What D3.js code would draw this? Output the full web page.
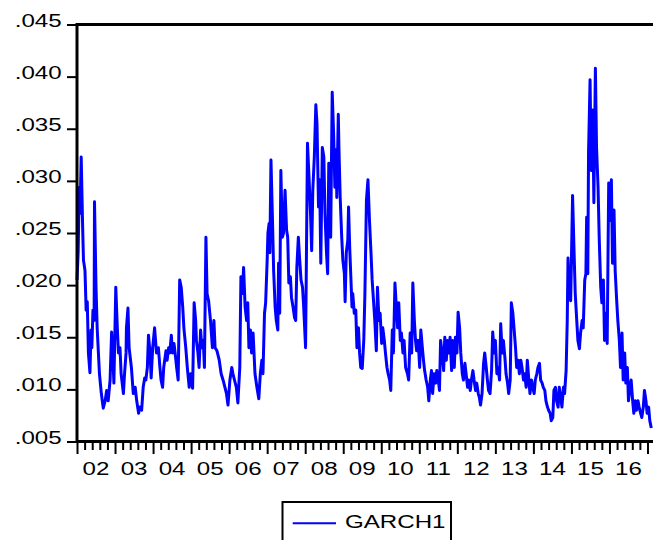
<!DOCTYPE html>
<html>
<head>
<meta charset="utf-8">
<script src="https://cdn.jsdelivr.net/npm/d3@7"></script>
<style>
  body { margin: 0; background: #fff; }
  text { font-family: Arial, "Liberation Sans", sans-serif; font-size: 19px; fill: #000; }
</style>
</head>
<body>
<svg id="chart" width="653" height="540"></svg>
<script>
// dates as decimal years
var dates = [
  2002.00,2002.03,2002.06,2002.08,2002.11,2002.15,2002.17,2002.21,2002.24,2002.27,
  2002.30,2002.34,2002.37,2002.39,2002.42,2002.45,2002.46,2002.50,2002.53,2002.59,
  2002.64,2002.69,2002.74,2002.78,2002.82,2002.87,2002.91,2002.94,2002.97,2003.02,
  2003.06,2003.09,2003.13,2003.16,2003.22,2003.25,2003.29,2003.30,2003.34,2003.37,
  2003.43,2003.48,2003.53,2003.57,2003.62,2003.65,2003.70,2003.74,2003.78,2003.81,
  2003.85,2003.88,2003.92,2003.95,2003.99,2004.04,2004.09,2004.14,2004.18,2004.21,
  2004.25,2004.28,2004.34,2004.37,2004.41,2004.44,2004.48,2004.51,2004.55,2004.58,
  2004.62,2004.66,2004.70,2004.74,2004.78,2004.81,2004.86,2004.90,2004.95,2004.99,
  2005.04,2005.08,2005.12,2005.14,2005.18,2005.21,2005.25,2005.28,2005.32,2005.35,
  2005.39,2005.42,2005.46,2005.51,2005.56,2005.60,2005.63,2005.68,2005.74,2005.79,
  2005.84,2005.89,2005.93,2005.97,2006.02,2006.07,2006.10,2006.14,2006.19,2006.23,
  2006.28,2006.31,2006.35,2006.38,2006.42,2006.46,2006.49,2006.52,2006.56,2006.59,
  2006.63,2006.68,2006.73,2006.78,2006.82,2006.86,2006.89,2006.93,2006.96,2007.00,
  2007.02,2007.05,2007.07,2007.10,2007.14,2007.17,2007.21,2007.24,2007.28,2007.30,
  2007.33,2007.36,2007.40,2007.43,2007.47,2007.51,2007.54,2007.57,2007.61,2007.64,
  2007.68,2007.72,2007.75,2007.78,2007.82,2007.85,2007.89,2007.93,2007.96,2008.01,
  2008.06,2008.10,2008.14,2008.17,2008.20,2008.24,2008.28,2008.31,2008.35,2008.38,
  2008.41,2008.45,2008.49,2008.52,2008.56,2008.59,2008.62,2008.67,2008.71,2008.75,
  2008.78,2008.82,2008.83,2008.87,2008.89,2008.92,2008.96,2008.99,2009.03,2009.05,
  2009.08,2009.12,2009.14,2009.17,2009.20,2009.23,2009.25,2009.29,2009.33,2009.36,
  2009.40,2009.43,2009.46,2009.50,2009.54,2009.57,2009.61,2009.65,2009.69,2009.73,
  2009.76,2009.80,2009.83,2009.87,2009.90,2009.94,2009.97,2010.01,2010.04,2010.08,
  2010.11,2010.15,2010.18,2010.22,2010.25,2010.29,2010.32,2010.36,2010.39,2010.43,
  2010.46,2010.50,2010.53,2010.57,2010.60,2010.64,2010.69,2010.72,2010.76,2010.80,
  2010.83,2010.87,2010.90,2010.93,2010.97,2011.01,2011.04,2011.08,2011.11,2011.14,
  2011.18,2011.22,2011.25,2011.29,2011.32,2011.35,2011.39,2011.43,2011.46,2011.50,
  2011.53,2011.56,2011.60,2011.64,2011.67,2011.71,2011.74,2011.77,2011.81,2011.85,
  2011.88,2011.92,2011.95,2011.99,2012.02,2012.06,2012.09,2012.13,2012.16,2012.20,
  2012.23,2012.27,2012.30,2012.34,2012.37,2012.41,2012.44,2012.48,2012.51,2012.55,
  2012.58,2012.61,2012.65,2012.69,2012.72,2012.76,2012.79,2012.82,2012.86,2012.90,
  2012.93,2012.97,2013.00,2013.04,2013.07,2013.11,2013.14,2013.18,2013.21,2013.25,
  2013.28,2013.32,2013.35,2013.39,2013.42,2013.46,2013.49,2013.53,2013.56,2013.60,
  2013.63,2013.67,2013.70,2013.74,2013.77,2013.81,2013.84,2013.88,2013.91,2013.95,
  2013.98,2014.02,2014.05,2014.09,2014.12,2014.16,2014.19,2014.23,2014.26,2014.30,
  2014.33,2014.37,2014.40,2014.44,2014.47,2014.51,2014.54,2014.58,2014.61,2014.65,
  2014.68,2014.72,2014.75,2014.79,2014.82,2014.86,2014.89,2014.91,2014.94,2014.98,
  2015.00,2015.03,2015.07,2015.10,2015.14,2015.17,2015.21,2015.24,2015.28,2015.31,
  2015.35,2015.38,2015.40,2015.43,2015.45,2015.49,2015.52,2015.56,2015.59,2015.63,
  2015.66,2015.70,2015.73,2015.77,2015.80,2015.84,2015.87,2015.91,2015.94,2015.98,
  2016.01,2016.05,2016.08,2016.12,2016.15,2016.19,2016.22,2016.26,2016.29,2016.33,
  2016.36,2016.40,2016.43,2016.47,2016.50,2016.54,2016.57,2016.61,2016.64,2016.68,
  2016.71,2016.75,2016.78,2016.82,2016.85,2016.89,2016.92,2016.96,2016.99,2017.03,
  2017.06,2017.10
]

var garch1 = [
  .0205,.0231,.0294,.0269,.0323,.0253,.0224,.0214,.0176,.0184,
  .0135,.0116,.0157,.0140,.0176,.0166,.0280,.0198,.0159,.0115,
  .0096,.0082,.0089,.0099,.0089,.0109,.0155,.0135,.0106,.0198,
  .0159,.0135,.0140,.0115,.0096,.0115,.0135,.0159,.0178,.0140,
  .0121,.0096,.0102,.0089,.0077,.0083,.0080,.0102,.0111,.0109,
  .0121,.0152,.0135,.0111,.0140,.0159,.0135,.0140,.0121,.0109,
  .0102,.0121,.0137,.0128,.0140,.0135,.0152,.0135,.0144,.0135,
  .0121,.0109,.0205,.0198,.0179,.0159,.0140,.0121,.0102,.0115,
  .0101,.0183,.0166,.0147,.0135,.0121,.0157,.0140,.0147,.0121,
  .0246,.0192,.0185,.0166,.0140,.0166,.0140,.0137,.0128,.0115,
  .0109,.0102,.0096,.0085,.0109,.0121,.0115,.0109,.0102,.0087,
  .0121,.0208,.0192,.0217,.0179,.0166,.0183,.0140,.0157,.0135,
  .0154,.0115,.0102,.0091,.0115,.0128,.0115,.0173,.0183,.0224,
  .0250,.0259,.0231,.0320,.0262,.0214,.0179,.0166,.0157,.0221,
  .0173,.0310,.0246,.0250,.0291,.0253,.0246,.0202,.0208,.0188,
  .0179,.0169,.0166,.0217,.0246,.0227,.0205,.0198,.0179,.0140,
  .0336,.0304,.0269,.0233,.0291,.0323,.0373,.0355,.0275,.0301,
  .0221,.0332,.0323,.0269,.0231,.0211,.0317,.0246,.0385,.0342,
  .0294,.0330,.0284,.0364,.0327,.0284,.0246,.0224,.0211,.0184,
  .0231,.0243,.0275,.0236,.0208,.0179,.0192,.0173,.0176,.0140,
  .0159,.0135,.0121,.0120,.0147,.0192,.0281,.0301,.0262,.0231,
  .0205,.0183,.0166,.0137,.0198,.0166,.0173,.0144,.0159,.0147,
  .0135,.0121,.0115,.0109,.0099,.0157,.0135,.0202,.0183,.0159,
  .0183,.0147,.0154,.0135,.0147,.0121,.0115,.0109,.0154,.0135,
  .0202,.0166,.0147,.0137,.0147,.0121,.0157,.0140,.0128,.0118,
  .0109,.0102,.0089,.0109,.0118,.0096,.0115,.0106,.0118,.0109,
  .0099,.0147,.0135,.0118,.0150,.0128,.0147,.0135,.0150,.0118,
  .0147,.0121,.0150,.0135,.0174,.0159,.0135,.0115,.0109,.0125,
  .0115,.0102,.0109,.0099,.0109,.0118,.0109,.0099,.0106,.0096,
  .0092,.0085,.0096,.0125,.0135,.0121,.0109,.0099,.0096,.0118,
  .0155,.0135,.0147,.0115,.0121,.0109,.0163,.0135,.0147,.0131,
  .0115,.0106,.0096,.0109,.0183,.0173,.0159,.0140,.0121,.0128,
  .0115,.0128,.0121,.0109,.0115,.0102,.0128,.0109,.0096,.0109,
  .0102,.0096,.0109,.0115,.0121,.0125,.0109,.0106,.0102,.0099,
  .0089,.0083,.0080,.0077,.0070,.0073,.0099,.0102,.0089,.0083,
  .0102,.0092,.0083,.0102,.0096,.0118,.0166,.0226,.0198,.0185,
  .0224,.0286,.0231,.0192,.0166,.0147,.0139,.0154,.0166,.0159,
  .0205,.0211,.0265,.0211,.0327,.0397,.0310,.0368,.0279,.0408,
  .0332,.0294,.0246,.0198,.0183,.0205,.0147,.0173,.0144,.0298,
  .0262,.0301,.0221,.0272,.0214,.0185,.0166,.0147,.0121,.0154,
  .0109,.0135,.0106,.0121,.0089,.0102,.0109,.0089,.0077,.0089,
  .0080,.0089,.0083,.0077,.0073,.0083,.0099,.0089,.0077,.0083,
  .0070,.0063
]

var yTicks = [.005, .010, .015, .020, .025, .030, .035, .040, .045]
var yearLabels = ["02","03","04","05","06","07","08","09","10","11","12","13","14","15","16"]
var firstYear = 2002
var seriesName = "GARCH1"

var margin = {top: 24.5, left: 77, bottom: 441.5, right: 662}
var stretch = 1.27   // eviews text is drawn wide

var svg = d3.select("#chart")

var x = d3.scaleLinear().domain([2002, 2017]).range([margin.left, 647.5])
var y = d3.scaleLinear().domain([0.005, 0.045]).range([margin.bottom, margin.top])

// the series
var line = d3.line()
  .x(function(d, i) { return x(dates[i]) })
  .y(function(d) { return y(d) })

svg.append("path")
  .datum(garch1)
  .attr("fill", "none")
  .attr("stroke", "#0000ff")
  .attr("stroke-width", 3)
  .attr("stroke-linejoin", "round")
  .attr("d", line)

// y axis
var fmt = d3.format(".3f")
var yAxis = svg.append("g")
  .attr("transform", "translate(" + margin.left + ",0)")
  .call(d3.axisLeft(y).tickValues(yTicks).tickSize(10)
    .tickFormat(function(d) { return fmt(d).replace(/^0/, "") }))

yAxis.select(".domain").remove()
yAxis.selectAll(".tick line").attr("stroke", "#000").attr("stroke-width", 2)
yAxis.selectAll(".tick text")
  .attr("x", null).attr("dy", null)
  .attr("font-size", 19)
  .attr("font-family", "Arial, 'Liberation Sans', sans-serif")
  .attr("transform", "translate(-15.3,1.5) scale(" + stretch + ",1)")

// x axis: year ticks and 4 minor ticks between
var majors = d3.range(firstYear, 2018)
var minors = []
for (var yr = firstYear; yr < 2018; yr++) {
  for (var k = 1; k < 5; k++) minors.push(yr + k / 5)
}

var xMinor = svg.append("g")
  .attr("transform", "translate(0," + margin.bottom + ")")
  .call(d3.axisBottom(x).tickValues(minors).tickSize(8.5).tickFormat(""))
xMinor.select(".domain").remove()
xMinor.selectAll(".tick line").attr("stroke", "#000").attr("stroke-width", 2)

var xMajor = svg.append("g")
  .attr("transform", "translate(0," + margin.bottom + ")")
  .call(d3.axisBottom(x).tickValues(majors).tickSize(12.5).tickFormat(""))
xMajor.select(".domain").remove()
xMajor.selectAll(".tick line").attr("stroke", "#000").attr("stroke-width", 2)

svg.append("g")
  .selectAll("text")
  .data(yearLabels)
  .enter().append("text")
  .attr("text-anchor", "middle")
  .attr("transform", function(d, i) {
    return "translate(" + x(firstYear + i + 0.5) + ",475) scale(" + stretch + ",1)"
  })
  .text(function(d) { return d })

// frame (left, top, bottom)
svg.append("path")
  .attr("fill", "none")
  .attr("stroke", "#000")
  .attr("stroke-width", 3)
  .attr("d", "M" + margin.right + "," + margin.bottom + "H" + margin.left +
             "V" + margin.top + "H" + margin.right)

// legend
var legend = svg.append("g")
legend.append("rect")
  .attr("x", 282.5).attr("y", 502)
  .attr("width", 168.5).attr("height", 60)
  .attr("fill", "#fff").attr("stroke", "#000").attr("stroke-width", 2)
legend.append("line")
  .attr("x1", 292.7).attr("x2", 336).attr("y1", 523.3).attr("y2", 523.3)
  .attr("stroke", "#0000ff").attr("stroke-width", 2)
legend.append("text")
  .attr("transform", "translate(345,527.7) scale(" + stretch + ",1)")
  .text(seriesName)
</script>
</body>
</html>
